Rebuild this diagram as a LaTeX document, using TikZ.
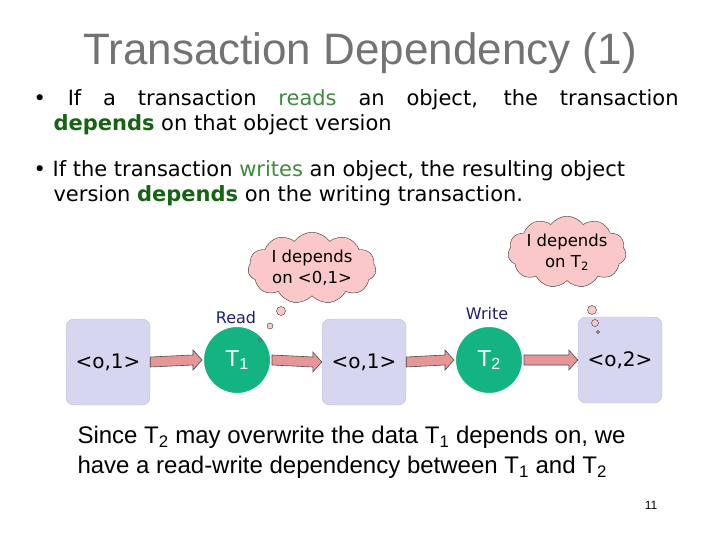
\documentclass[tikz,border=0pt]{standalone}
\usepackage{fontspec}
\setmainfont{Liberation Sans}
\newfontfamily\cm{DejaVu Sans}
\usetikzlibrary{shapes.symbols,arrows.meta,calc}
\definecolor{boxc}{RGB}{214,214,240}
\definecolor{circc}{RGB}{20,180,130}
\definecolor{arrc}{RGB}{230,150,150}
\definecolor{cloudc}{RGB}{250,200,200}
\definecolor{greenw}{RGB}{60,140,60}
\definecolor{greend}{RGB}{20,100,20}
\definecolor{navy}{RGB}{30,30,110}
\tikzset{
 obj/.style={draw=boxc!70!gray,fill=boxc,rounded corners=8pt,minimum width=84pt,minimum height=86pt,font=\cm\fontsize{20}{20}\selectfont},
 tx/.style={circle,draw=white,line width=2pt,fill=circc,minimum size=68pt,text=white,font=\fontsize{23}{23}\selectfont},
 fat/.style={draw=black!70,fill=arrc,line width=0.6pt},
 thought/.style={cloud,cloud puffs=11,cloud puff arc=110,aspect=2,draw=black!80,fill=cloudc,inner sep=0pt,align=center,font=\cm\fontsize{16.5}{21}\selectfont},
 bub/.style={circle,draw=black!80,fill=cloudc,inner sep=0pt},
 lab/.style={font=\cm\fontsize{16}{16}\selectfont,text=navy}
}
\newcommand\fatarrow[2]{%
 \path (#1.east) coordinate (s) (#2.west) coordinate (e);
 \filldraw[fat] ($(s)+(0,-5)$) -- ($(e)+(-9,-5)$) -- ($(e)+(-9,-10)$) -- (e) -- ($(e)+(-9,10)$) -- ($(e)+(-9,5)$) -- ($(s)+(0,5)$) -- cycle;}
\newcommand\dep{\textcolor{greend}{\bfseries depends}}
\begin{document}
\begin{tikzpicture}[x=1pt,y=-1pt]
\useasboundingbox (0,0) rectangle (720,540);
\node[text=black!55,font=\fontsize{44}{44}\selectfont] (title) at (360,53) {Transaction Dependency (1)};
\node[anchor=north west,align=left,font=\cm\fontsize{21}{25}\selectfont] (b1) at (30,86)
 {\makebox[645pt][s]{\textbullet\ If a transaction \textcolor{greenw}{reads} an object, the transaction}\\\hspace*{20pt}\dep{} on that object version};
\node[anchor=north west,align=left,font=\cm\fontsize{21}{25}\selectfont] (b2) at (30,157)
 {\textbullet\ If the transaction \textcolor{greenw}{writes} an object, the resulting object\\\hspace*{20pt}version \dep{} on the writing transaction.};
\node[obj] (o1) at (108,362) {<o,1>};
\node[tx] (t1) at (237,360) {T\textsubscript{1}};
\node[obj] (o2) at (364,362) {<o,1>};
\node[tx] (t2) at (489,360) {T\textsubscript{2}};
\node[obj] (o3) at (620,360) {<o,2>};
\fatarrow{o1}{t1}
\fatarrow{t1}{o2}
\fatarrow{o2}{t2}
\fatarrow{t2}{o3}
\node[lab] (rd) at (236,318) {Read};
\node[lab] (wr) at (487,314) {Write};
\node[thought,minimum width=128pt,minimum height=64pt] (c1) at (312,268) {I depends\\on <0,1>};
\node[bub,minimum size=9pt] (c1a) at (281,311) {};
\node[bub,minimum size=6pt] (c1b) at (270,326) {};
\node[bub,minimum size=3pt] (c1c) at (260,340) {};
\node[thought,minimum width=118pt,minimum height=64pt] (c2) at (567,252) {I depends\\on T\textsubscript{2}};
\node[bub,minimum size=9pt] (c2a) at (592,310) {};
\node[bub,minimum size=7pt] (c2b) at (595,323) {};
\node[bub,minimum size=3pt] (c2c) at (598,332) {};
\node[anchor=north west,align=left,font=\fontsize{24}{30}\selectfont] (bot) at (74,423)
 {Since T\textsubscript{2} may overwrite the data T\textsubscript{1} depends on, we\\have a read-write dependency between T\textsubscript{1} and T\textsubscript{2}};
\node[font=\fontsize{12}{12}\selectfont\rmfamily] (pg) at (651,505) {11};
\end{tikzpicture}
\end{document}
